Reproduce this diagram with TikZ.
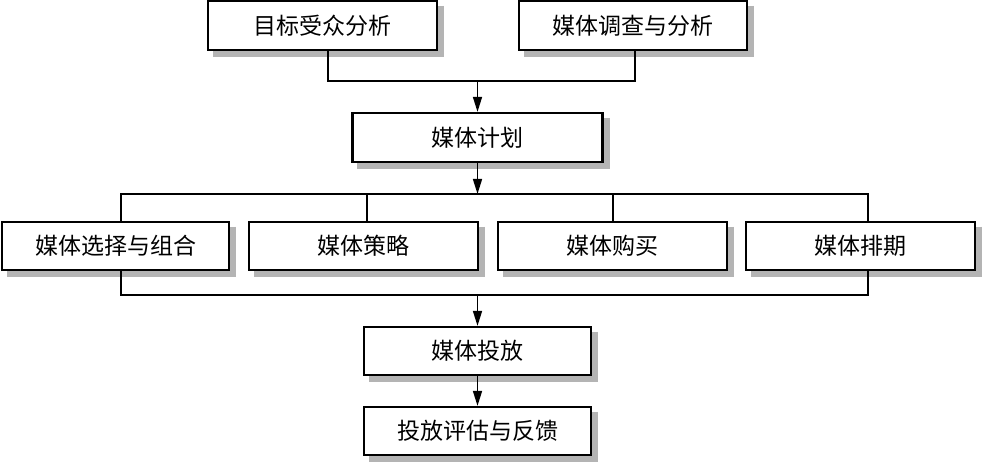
\documentclass[tikz,border=0pt]{standalone}
\usepackage{fontspec}
\setmainfont{Noto Sans CJK SC}
\usetikzlibrary{arrows.meta}
\definecolor{shadowgray}{RGB}{180,180,180}
\begin{document}
\begin{tikzpicture}[x=1pt,y=1pt,
  box/.style={draw, line width=2.2pt, fill=white, inner sep=0pt,
    minimum height=48pt,
    font=\fontsize{23pt}{27pt}\selectfont},
  shadowline/.style={draw=shadowgray, line width=6pt, line join=miter, line cap=butt},
  conn/.style={line width=1.5pt},
  arr/.style={line width=1.5pt, -{Triangle[length=15pt,width=9pt]}}]
\fill[white] (0,0) rectangle (982,462);
\useasboundingbox (0,0) rectangle (982,462);
% top row
\node[box, minimum width=229pt, minimum height=49pt] (aud) at (322.5,436.5) {目标受众分析};
\node[box, minimum width=228pt, minimum height=49pt] (res) at (633,436.5) {媒体调查与分析};
% plan
\node[box, minimum width=250pt, minimum height=49pt] (plan) at (477.5,324.5) {媒体计划};
% middle row
\node[box, minimum width=227pt] (sel) at (115.5,216) {媒体选择与组合};
\node[box, minimum width=229pt] (str) at (363.5,216) {媒体策略};
\node[box, minimum width=229pt] (buy) at (612.5,216) {媒体购买};
\node[box, minimum width=229pt] (sch) at (860.5,216) {媒体排期};
% bottom
\node[box, minimum width=227pt] (lau) at (477.5,111) {媒体投放};
\node[box, minimum width=227pt] (eva) at (477.5,31) {投放评估与反馈};
% shadows: grey strips along the right and bottom edges
\foreach \n in {aud,res,plan,sel,str,buy,sch,lau,eva}{
  \draw[shadowline] ([shift={(3pt,-6pt)}]\n.north east) -- ([shift={(3pt,-3pt)}]\n.south east) -- ([shift={(6pt,-3pt)}]\n.south west);
}
% junctions
\coordinate (m1) at (477.5,381);
\coordinate (m2) at (477.5,268);
\coordinate (m3) at (477.5,167);
% connectors
\draw[conn] ([xshift=5.5pt]aud.south) |- (m1) -| ([xshift=2pt]res.south);
\draw[arr] (m1) -- (plan.north);
\draw[arr] (plan.south) -- (m2);
\draw[conn] ([xshift=5.5pt]sel.north) |- (m2) -| ([xshift=7.5pt]sch.north);
\draw[conn] ([xshift=3.5pt]str.north) -- ([xshift=3.5pt]str.north |- m2);
\draw[conn] ([xshift=0.5pt]buy.north) -- ([xshift=0.5pt]buy.north |- m2);
\draw[conn] ([xshift=5.5pt]sel.south) |- (m3) -| ([xshift=7.5pt]sch.south);
\draw[arr] (m3) -- (lau.north);
\draw[arr] (lau.south) -- (eva.north);
\end{tikzpicture}
\end{document}
